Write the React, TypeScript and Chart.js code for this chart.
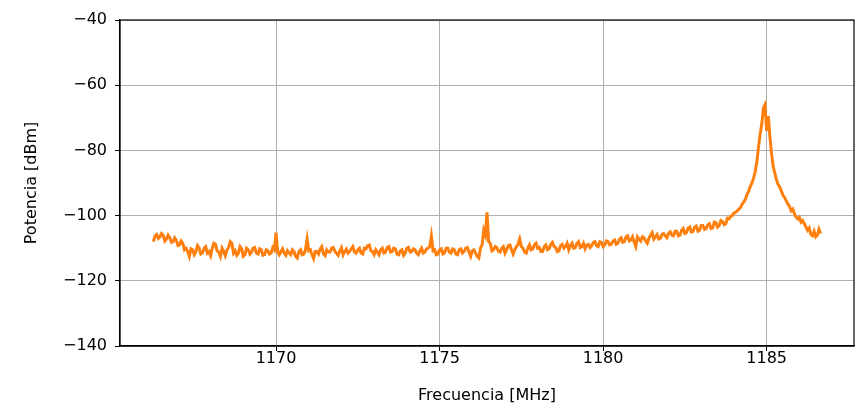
import React, { useEffect, useRef } from "react";
import { Chart, registerables } from "chart.js";

Chart.register(...registerables);

// Frequency grid of the sweep (MHz)
const FREQ_START = 1166.25;
const FREQ_STEP = 0.05;

// Measured power (dBm), one value per frequency step (rows of 1 MHz)
const POWER_DBM: number[] = [
  -108.0, -106.2, -105.8, -107.0, -106.5, -105.5, -106.0, -107.8, -107.2, -106.0, -106.8, -108.2, -108.0, -106.8, -107.5, -109.2, -109.0, -107.8, -108.5, -110.5,
  -110.0, -111.0, -112.5, -110.2, -110.5, -112.0, -111.0, -109.2, -110.0, -111.8, -111.5, -110.0, -109.5, -111.5, -111.0, -112.3, -110.0, -108.5, -108.8, -110.8,
  -111.2, -112.5, -110.0, -111.0, -112.3, -110.5, -109.8, -108.0, -108.5, -111.5, -110.8, -112.2, -111.5, -109.5, -110.2, -112.5, -112.0, -110.0, -110.5, -111.8,
  -111.2, -110.0, -109.8, -111.5, -111.8, -110.2, -110.5, -112.2, -112.0, -110.5, -110.8, -111.8, -111.5, -109.8, -110.5, -105.2, -111.0, -112.0, -111.0, -110.2,
  -111.5, -112.2, -110.8, -111.5, -112.0, -110.5, -111.0, -112.5, -113.0, -111.0, -110.5, -112.0, -111.8, -110.5, -107.2, -110.8, -110.5, -112.0, -113.2, -111.0,
  -111.0, -111.8, -110.2, -109.5, -111.8, -112.3, -110.5, -111.2, -111.2, -110.0, -109.8, -111.0, -111.5, -112.2, -110.8, -109.8, -112.0, -111.0, -110.3, -111.5,
  -111.0, -110.2, -109.5, -111.2, -111.5, -110.5, -110.0, -111.5, -111.8, -110.0, -110.2, -109.2, -109.0, -110.8, -111.0, -112.0, -110.5, -111.2, -112.0, -110.5,
  -110.0, -111.5, -111.2, -109.8, -109.5, -111.2, -111.0, -110.0, -110.2, -111.8, -112.0, -110.8, -110.5, -112.2, -111.5, -110.0, -109.8, -111.2, -111.0, -110.2,
  -110.5, -111.5, -112.0, -110.8, -110.0, -111.5, -111.2, -110.2, -110.0, -109.5, -106.3, -110.8, -110.5, -112.0, -111.8, -110.5, -110.2, -111.8, -111.5, -110.0,
  -110.0, -111.2, -111.5, -110.2, -110.5, -111.8, -112.0, -110.5, -110.2, -111.5, -111.0, -110.0, -109.8, -111.2, -112.5, -110.8, -110.5, -111.5, -112.5, -113.0,
  -110.0, -109.0, -104.5, -106.0, -99.0, -108.0, -108.5, -110.8, -110.5, -109.5, -109.8, -111.0, -111.2, -110.0, -109.5, -111.5, -110.5, -109.2, -109.0, -110.5,
  -111.8, -110.5, -109.5, -108.8, -107.2, -109.5, -110.0, -111.2, -111.5, -110.0, -109.0, -110.5, -110.2, -109.0, -108.5, -110.0, -109.8, -111.0, -111.0, -109.5,
  -109.0, -110.5, -110.2, -108.8, -108.2, -109.5, -109.8, -111.0, -110.8, -109.2, -108.8, -110.0, -109.5, -108.5, -110.5, -109.2, -108.5, -110.0, -109.8, -108.5,
  -108.0, -109.8, -109.5, -108.5, -110.2, -109.0, -108.8, -109.8, -109.2, -108.2, -108.0, -109.2, -109.5, -108.0, -108.3, -109.5, -109.0, -107.8, -108.0, -109.0,
  -108.8, -107.8, -107.5, -108.8, -108.5, -107.2, -106.8, -108.2, -108.0, -106.5, -106.2, -107.8, -107.5, -106.5, -108.2, -109.5, -106.5, -107.2, -107.8, -106.5,
  -106.8, -107.8, -108.5, -107.0, -106.0, -105.2, -107.2, -106.5, -105.8, -107.2, -107.0, -105.8, -105.5, -106.2, -106.8, -105.5, -105.0, -106.0, -106.2, -104.8,
  -104.8, -106.2, -106.0, -104.5, -104.0, -105.5, -105.2, -103.8, -103.5, -105.0, -104.8, -103.5, -103.2, -104.8, -104.5, -103.0, -103.0, -104.2, -104.0, -102.8,
  -102.5, -104.0, -103.8, -102.0, -102.2, -103.5, -103.0, -101.5, -101.8, -102.8, -102.5, -100.8, -101.0, -100.2, -100.0, -99.2, -99.0, -98.5, -98.0, -97.5,
  -96.5, -95.8, -95.0, -93.5, -92.5, -91.0, -90.0, -88.5, -86.5, -83.5, -79.0, -75.0, -72.0, -67.0, -66.0, -74.0, -69.5, -76.0, -81.0, -85.0,
  -87.0, -89.0, -90.5, -91.2, -92.5, -93.8, -94.5, -95.5, -96.5, -97.2, -98.5, -98.0, -99.5, -100.5, -101.0, -100.5, -102.0, -101.5, -102.5, -103.5,
  -104.5, -103.8, -105.8, -106.2, -104.8, -106.5, -106.0, -104.2, -105.5,
];

const X_TICKS = [1170, 1175, 1180, 1185];
const Y_TICKS = [-140, -120, -100, -80, -60, -40];
const X_MIN = 1165.23;
const X_MAX = 1187.67;
const Y_MIN = -140;
const Y_MAX = -40;

const X_TITLE = "Frecuencia [MHz]";
const Y_TITLE = "Potencia [dBm]";

const FONT = "'DejaVu Sans', sans-serif";

export default function App() {
  const ref = useRef<HTMLCanvasElement | null>(null);

  useEffect(() => {
    if (!ref.current) return;
    const points = POWER_DBM.map((y, i) => ({
      x: FREQ_START + i * FREQ_STEP,
      y,
    }));

    const frame = {
      id: "frame",
      afterDraw(chart: any) {
        const { ctx, chartArea } = chart;
        ctx.save();
        ctx.strokeStyle = "#000";
        ctx.lineWidth = 1.2;
        ctx.strokeRect(
          chartArea.left,
          chartArea.top,
          chartArea.right - chartArea.left,
          chartArea.bottom - chartArea.top
        );
        ctx.restore();
      },
    };

    const chart = new Chart(ref.current, {
      type: "line",
      data: {
        datasets: [
          {
            data: points,
            borderColor: "#ff7f0e",
            borderWidth: 3,
            pointRadius: 0,
            tension: 0,
            fill: false,
          },
        ],
      },
      options: {
        animation: false,
        responsive: true,
        maintainAspectRatio: false,
        layout: { padding: { top: 20, right: 2, left: 0, bottom: 0 } },
        plugins: {
          legend: { display: false },
          tooltip: { enabled: false },
        },
        scales: {
          x: {
            type: "linear",
            min: X_MIN,
            max: X_MAX,
            afterBuildTicks: (scale: any) => {
              scale.ticks = X_TICKS.map((v) => ({ value: v }));
            },
            afterFit: (scale: any) => {
              scale.height = 60;
            },
            grid: {
              color: "#b0b0b0",
              lineWidth: 1,
              tickColor: "#000",
              tickLength: 5,
            },
            border: { color: "#000", width: 1.2 },
            ticks: {
              color: "#000",
              font: { family: FONT, size: 16 },
              padding: -2,
              maxRotation: 0,
              callback: (v: any) => String(v),
            },
            title: {
              display: true,
              text: X_TITLE,
              color: "#000",
              font: { family: FONT, size: 16 },
              padding: { top: 0, bottom: 1 },
            },
          },
          y: {
            type: "linear",
            min: Y_MIN,
            max: Y_MAX,
            afterBuildTicks: (scale: any) => {
              scale.ticks = Y_TICKS.map((v) => ({ value: v }));
            },
            afterFit: (scale: any) => {
              scale.width = 120;
            },
            grid: {
              color: "#b0b0b0",
              lineWidth: 1,
              tickColor: "#000",
              tickLength: 5,
            },
            border: { color: "#000", width: 1.2 },
            ticks: {
              color: "#000",
              font: { family: FONT, size: 16 },
              padding: 8,
              callback: (v: any) => String(v).replace("-", "\u2212"),
            },
            title: {
              display: true,
              text: Y_TITLE,
              color: "#000",
              font: { family: FONT, size: 16 },
              padding: { top: 22, bottom: 0 },
            },
          },
        },
      },
      plugins: [frame],
    });

    return () => chart.destroy();
  }, []);

  return (
    <div
      style={{
        position: "fixed",
        left: 0,
        top: 0,
        width: 856,
        height: 406,
        background: "#fff",
      }}
    >
      <canvas ref={ref} />
    </div>
  );
}
